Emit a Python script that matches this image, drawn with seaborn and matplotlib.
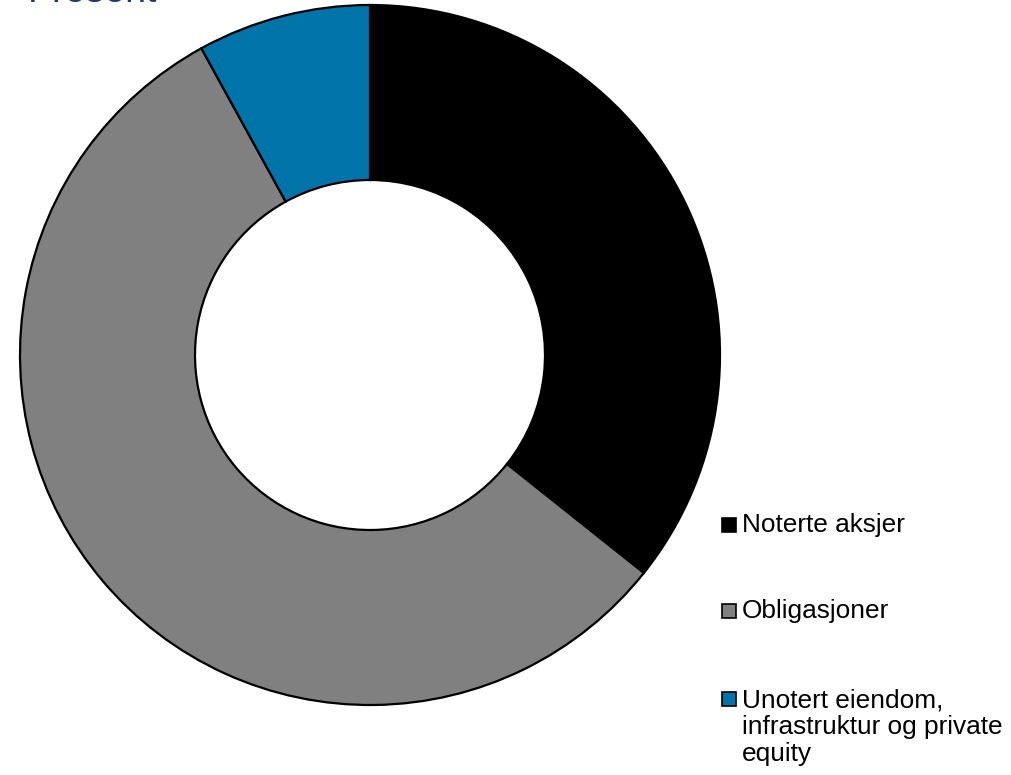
import matplotlib
matplotlib.use("Agg")
import matplotlib.pyplot as plt
from matplotlib.patches import Rectangle
import seaborn as sns

categories = ["Noterte aksjer", "Obligasjoner",
              "Unotert eiendom,\ninfrastruktur og private\nequity"]
shares = [35.7, 56.3, 8.0]
colors = ["#000000", "#808080", "#0073A8"]
title = "Present"

sns.set_theme(style="white")
plt.rcParams["font.family"] = ["Liberation Sans", "DejaVu Sans"]

W, H = 1012, 775
fig = plt.figure(figsize=(W / 100, H / 100), dpi=100)
ax = fig.add_axes([20 / W, 70 / H, 700 / W, 700 / H])

wedges, _ = ax.pie(shares, colors=colors, startangle=90, counterclock=False,
                   radius=1.0, wedgeprops=dict(width=0.5, edgecolor="black",
                                               linewidth=1.6))
for w in wedges:
    w.set_clip_on(False)
ax.set_xlim(-1, 1)
ax.set_ylim(-1, 1)
ax.set_aspect("equal")
ax.axis("off")

fig.text(28 / W, 1 - 1.5 / H, title, fontsize=27, color="#1F3A70",
         ha="left", va="baseline")

# legend: swatch aligned with the first line of each label
first_baselines = [532, 618, 706]
line_step = 27.6  # pixels between consecutive label lines
for lab, col, yb in zip(categories, colors, first_baselines):
    fig.add_artist(Rectangle((722 / W, 1 - yb / H), 14 / W, 14 / H,
                             facecolor=col, edgecolor="black", linewidth=1.2,
                             transform=fig.transFigure))
    n_extra = lab.count("\n")
    last_base = yb + n_extra * line_step
    fig.text(742 / W, 1 - last_base / H, lab, fontsize=18.9, color="black",
             ha="left", va="baseline", linespacing=1.15)

fig.savefig("out.png", dpi=100)
